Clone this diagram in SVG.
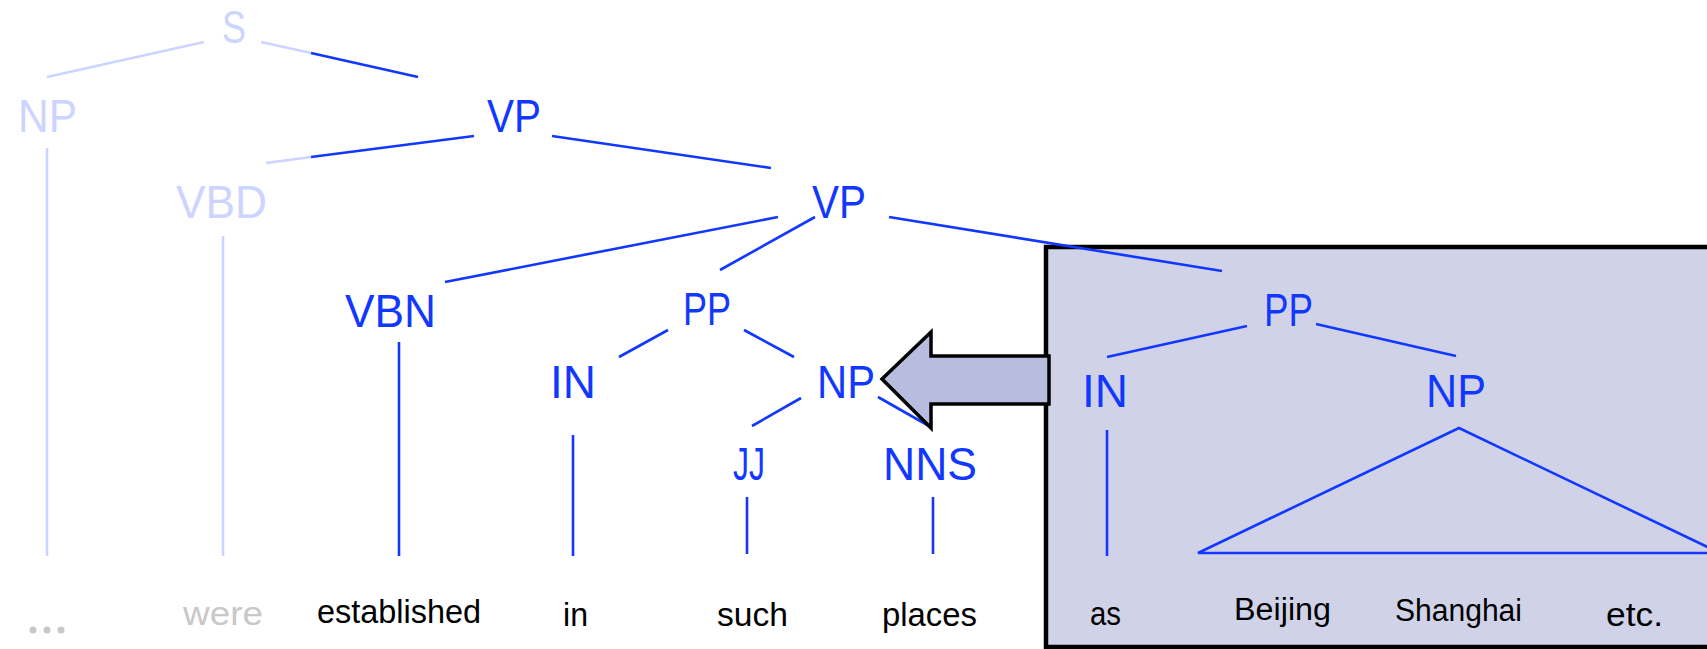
<svg xmlns="http://www.w3.org/2000/svg" width="1707" height="649" viewBox="0 0 1707 649">
<style>
.lbl{font-family:"Liberation Sans",Arial,sans-serif;font-size:46px;fill:#1238ff}
.lbl.faint{fill:#ccd5ff}
.w{font-family:"Liberation Sans",Arial,sans-serif;font-size:33px;fill:#000}
.w.sm{font-size:31px}
.w.gray{fill:#c8c8c8}
.e{stroke:#1238ff;stroke-width:2.6;fill:none}
.ef{stroke:#ccd5ff;stroke-width:2.6;fill:none}
</style>
<rect width="1707" height="649" fill="#fff"/>
<g id="highlight-box">
<rect x="1046" y="247" width="720" height="400" fill="#d0d3e8" stroke="#000" stroke-width="4.5"/>
</g>
<g id="connectors">
<line class="ef" x1="47" y1="77" x2="204" y2="42"/>
<line class="ef" x1="261" y1="42" x2="311" y2="53"/>
<line class="e" x1="311" y1="53" x2="418" y2="77"/>
<line class="e" x1="474" y1="136" x2="311" y2="157"/>
<line class="ef" x1="311" y1="157" x2="266" y2="163"/>
<line class="ef" x1="47" y1="148" x2="47" y2="556"/>
<line class="ef" x1="223" y1="236" x2="223" y2="556"/>
<line class="e" x1="552" y1="136" x2="771" y2="168"/>
<line class="e" x1="778" y1="217" x2="445" y2="282"/>
<line class="e" x1="815" y1="217" x2="720" y2="270"/>
<line class="e" x1="889" y1="217" x2="1222" y2="271"/>
<line class="e" x1="399" y1="342" x2="399" y2="556"/>
<line class="e" x1="668" y1="330" x2="619" y2="357"/>
<line class="e" x1="744" y1="330" x2="794" y2="357"/>
<line class="e" x1="573" y1="435" x2="573" y2="556"/>
<line class="e" x1="801" y1="398" x2="752" y2="426"/>
<line class="e" x1="878" y1="397" x2="929" y2="426"/>
<line class="e" x1="747" y1="497" x2="747" y2="554"/>
<line class="e" x1="933" y1="497" x2="933" y2="554"/>
<line class="e" x1="1247" y1="326" x2="1107" y2="357"/>
<line class="e" x1="1316" y1="324" x2="1456" y2="356"/>
<line class="e" x1="1107" y1="430" x2="1107" y2="556"/>
<polygon class="e" points="1459,428 1198,553 1720,553"/>
</g>
<g id="arrow">
<polygon points="882,379 931,332 931,356 1049,356 1049,404 931,404 931,428" fill="#b8bcdf" stroke="#000" stroke-width="3.5" stroke-linejoin="miter"/>
</g>
<g id="node-S"><text class="lbl faint" x="222" y="43" textLength="24" lengthAdjust="spacingAndGlyphs">S</text></g>
<g id="node-NP1"><text class="lbl faint" x="18" y="132" textLength="59" lengthAdjust="spacingAndGlyphs">NP</text></g>
<g id="node-VP1"><text class="lbl" x="487" y="132" textLength="54" lengthAdjust="spacingAndGlyphs">VP</text></g>
<g id="node-VBD"><text class="lbl faint" x="176" y="218" textLength="91" lengthAdjust="spacingAndGlyphs">VBD</text></g>
<g id="node-VP2"><text class="lbl" x="812" y="218" textLength="54" lengthAdjust="spacingAndGlyphs">VP</text></g>
<g id="node-VBN"><text class="lbl" x="345" y="327" textLength="91" lengthAdjust="spacingAndGlyphs">VBN</text></g>
<g id="node-PP1"><text class="lbl" x="683" y="325" textLength="48" lengthAdjust="spacingAndGlyphs">PP</text></g>
<g id="node-IN1"><text class="lbl" x="550" y="398" textLength="46" lengthAdjust="spacingAndGlyphs">IN</text></g>
<g id="node-NP2"><text class="lbl" x="817" y="398" textLength="58" lengthAdjust="spacingAndGlyphs">NP</text></g>
<g id="node-JJ"><text class="lbl" x="733" y="480" textLength="32" lengthAdjust="spacingAndGlyphs">JJ</text></g>
<g id="node-NNS"><text class="lbl" x="883" y="480" textLength="94" lengthAdjust="spacingAndGlyphs">NNS</text></g>
<g id="node-PP2"><text class="lbl" x="1264" y="326" textLength="49" lengthAdjust="spacingAndGlyphs">PP</text></g>
<g id="node-IN2"><text class="lbl" x="1082" y="407" textLength="46" lengthAdjust="spacingAndGlyphs">IN</text></g>
<g id="node-NP3"><text class="lbl" x="1426" y="407" textLength="60" lengthAdjust="spacingAndGlyphs">NP</text></g>
<g id="word-dots"><circle cx="33" cy="630" r="3.5" fill="#c8c8c8"/><circle cx="47" cy="630" r="3.5" fill="#c8c8c8"/><circle cx="61" cy="630" r="3.5" fill="#c8c8c8"/></g>
<g id="word-were"><text class="w gray" x="183" y="625" textLength="80" lengthAdjust="spacingAndGlyphs">were</text></g>
<g id="word-established"><text class="w" x="317" y="623" textLength="164" lengthAdjust="spacingAndGlyphs">established</text></g>
<g id="word-in"><text class="w" x="563" y="626" textLength="25" lengthAdjust="spacingAndGlyphs">in</text></g>
<g id="word-such"><text class="w" x="717" y="626" textLength="71" lengthAdjust="spacingAndGlyphs">such</text></g>
<g id="word-places"><text class="w" x="882" y="626" textLength="95" lengthAdjust="spacingAndGlyphs">places</text></g>
<g id="word-as"><text class="w" x="1090" y="625" textLength="31" lengthAdjust="spacingAndGlyphs">as</text></g>
<g id="word-Beijing"><text class="w sm" x="1234" y="620" textLength="97" lengthAdjust="spacingAndGlyphs">Beijing</text></g>
<g id="word-Shanghai"><text class="w sm" x="1395" y="621" textLength="127" lengthAdjust="spacingAndGlyphs">Shanghai</text></g>
<g id="word-etc"><text class="w" x="1606" y="626" textLength="57" lengthAdjust="spacingAndGlyphs">etc.</text></g>
</svg>
